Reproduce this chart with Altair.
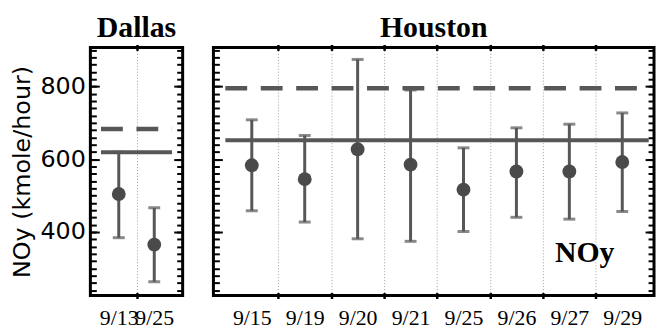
import json
import altair as alt
import pandas as pd

# ---- data ----
dallas_dates = ["9/13", "9/25"]
dallas_mean = [504, 365]
dallas_upper = [619, 466]
dallas_lower = [384, 263]
dallas_solid = 619
dallas_dashed = 683

houston_dates = ["9/15", "9/19", "9/20", "9/21", "9/25", "9/26", "9/27", "9/29"]
houston_mean = [583, 545, 627, 585, 516, 566, 566, 592]
houston_upper = [708, 665, 874, 790, 631, 686, 696, 727]
houston_lower = [458, 427, 381, 374, 401, 440, 435, 456]
houston_solid = 652
houston_dashed = 795

y_major = [400, 600, 800]
y_minor = list(range(240, 901, 20))
y_domain = [225, 907]

LINE = "#575757"
DOT = "#4a4a4a"
SERIF = "Liberation Serif"
SANS = "DejaVu Sans"


def panel(dates, mean, upper, lower, solid, dashed, name, width, xdomain,
          show_labels, note=None):
    n = len(dates)
    df = pd.DataFrame({
        "idx": list(range(1, n + 1)),
        "date": dates,
        "mean": mean,
        "upper": upper,
        "lower": lower,
    })
    lines = pd.DataFrame({"x0": [0.5], "x1": [n + 0.5],
                          "solid": [solid], "dashed": [dashed]})
    xs = alt.Scale(domain=xdomain, nice=False, zero=False)
    ys = alt.Scale(domain=y_domain, nice=False, zero=False)
    bounds = [i + 0.5 for i in range(1, n)]
    lab_expr = "%s[datum.value - 1]" % json.dumps(dates)

    x_lab_axis = alt.Axis(orient="bottom", values=list(range(1, n + 1)),
                          labelExpr=lab_expr, ticks=False, domain=False,
                          grid=False, labelFont=SERIF, labelFontSize=22,
                          labelColor="black", labelPadding=12,
                          labelOverlap=False, labelFlush=False, title=None)
    x_top_axis = alt.Axis(orient="top", values=bounds, labels=False,
                          domain=False, grid=True, gridColor="#a0a0a0",
                          gridDash=[1, 2], gridWidth=1, tickSize=6,
                          tickWidth=2.5, tickColor="black", offset=-3,
                          title=None)
    x_bot_axis = alt.Axis(orient="bottom", values=bounds, labels=False,
                          domain=False, grid=False, tickSize=6,
                          tickWidth=2.5, tickColor="black", offset=-3,
                          title=None)

    if show_labels:
        y_left_major = alt.Axis(orient="left", values=y_major, tickSize=9,
                                tickWidth=2, tickColor="black", offset=-9,
                                domain=False, grid=False, labelFont=SANS,
                                labelFontSize=24, labelColor="black",
                                labelPadding=5,
                                title="NOy (kmole/hour)", titleFont=SANS,
                                titleFontSize=24, titleFontWeight="normal",
                                titleColor="black", titlePadding=6)
    else:
        y_left_major = alt.Axis(orient="left", values=y_major, tickSize=9,
                                tickWidth=2, tickColor="black", offset=-9,
                                domain=False, grid=False, labels=False,
                                title=None)
    y_left_minor = alt.Axis(orient="left", values=y_minor, tickSize=6,
                            tickWidth=2, tickColor="black", offset=-6,
                            domain=False, grid=False, labels=False, title=None)
    # right-hand inward ticks: left-oriented axes pushed to the right edge
    y_right_major = alt.Axis(orient="left", values=y_major, tickSize=9,
                             tickWidth=2, tickColor="black", offset=-width,
                             domain=False, grid=False, labels=False, title=None)
    y_right_minor = alt.Axis(orient="left", values=y_minor, tickSize=6,
                             tickWidth=2, tickColor="black", offset=-width,
                             domain=False, grid=False, labels=False, title=None)

    base = alt.Chart(df)
    whisker = base.mark_rule(color=LINE, strokeWidth=3).encode(
        x=alt.X("idx:Q", scale=xs, axis=x_lab_axis),
        y=alt.Y("lower:Q", scale=ys, axis=y_left_major),
        y2="upper:Q",
    )
    cap_hi = base.mark_tick(color=LINE, orient="horizontal", size=12,
                            thickness=3).encode(
        x=alt.X("idx:Q", scale=xs, axis=x_top_axis),
        y=alt.Y("upper:Q", scale=ys, axis=y_left_minor),
    )
    cap_lo = base.mark_tick(color=LINE, orient="horizontal", size=12,
                            thickness=3).encode(
        x=alt.X("idx:Q", scale=xs, axis=x_bot_axis),
        y=alt.Y("lower:Q", scale=ys, axis=y_right_major),
    )
    dots = base.mark_circle(color=DOT, size=195, opacity=1).encode(
        x=alt.X("idx:Q", scale=xs, axis=None),
        y=alt.Y("mean:Q", scale=ys, axis=y_right_minor),
    )
    lbase = alt.Chart(lines)
    solid_l = lbase.mark_rule(color=LINE, strokeWidth=4).encode(
        x=alt.X("x0:Q", scale=xs, axis=None), x2="x1:Q",
        y=alt.Y("solid:Q", scale=ys, axis=None),
    )
    dashed_l = lbase.mark_rule(color=LINE, strokeWidth=4.5,
                               strokeDash=[22, 13.7]).encode(
        x=alt.X("x0:Q", scale=xs, axis=None), x2="x1:Q",
        y=alt.Y("dashed:Q", scale=ys, axis=None),
    )
    layers = [whisker, cap_hi, cap_lo, dots, solid_l, dashed_l]
    if note is not None:
        tdf = pd.DataFrame({"tx": [note[0]], "ty": [note[1]], "t": [note[2]]})
        txt = alt.Chart(tdf).mark_text(font=SERIF, fontSize=30,
                                       fontWeight="bold", color="black",
                                       align="center",
                                       baseline="alphabetic").encode(
            x=alt.X("tx:Q", scale=xs, axis=None),
            y=alt.Y("ty:Q", scale=ys, axis=None),
            text="t:N",
        )
        layers.append(txt)
    return alt.layer(*layers).resolve_axis(x="independent", y="independent") \
        .properties(
            width=width, height=250,
            title=alt.TitleParams(name, font=SERIF, fontSize=30,
                                  fontWeight="bold", color="black",
                                  anchor="middle", frame="group", offset=0),
        )


dallas = panel(dallas_dates, dallas_mean, dallas_upper, dallas_lower,
               dallas_solid, dallas_dashed, "Dallas", 93, [0.2, 2.8], True)
houston = panel(houston_dates, houston_mean, houston_upper, houston_lower,
                houston_solid, houston_dashed, "Houston", 444,
                [0.275, 8.6], False, note=(7.29, 317, "NOy"))

chart = alt.hconcat(dallas, houston, spacing=25).properties(
    padding={"left": 0, "top": 2.5, "right": 0, "bottom": 0},
    background="white",
).configure_view(stroke="black", strokeWidth=3)

chart.save("out.html", embed_options={"renderer": "svg", "actions": False})
